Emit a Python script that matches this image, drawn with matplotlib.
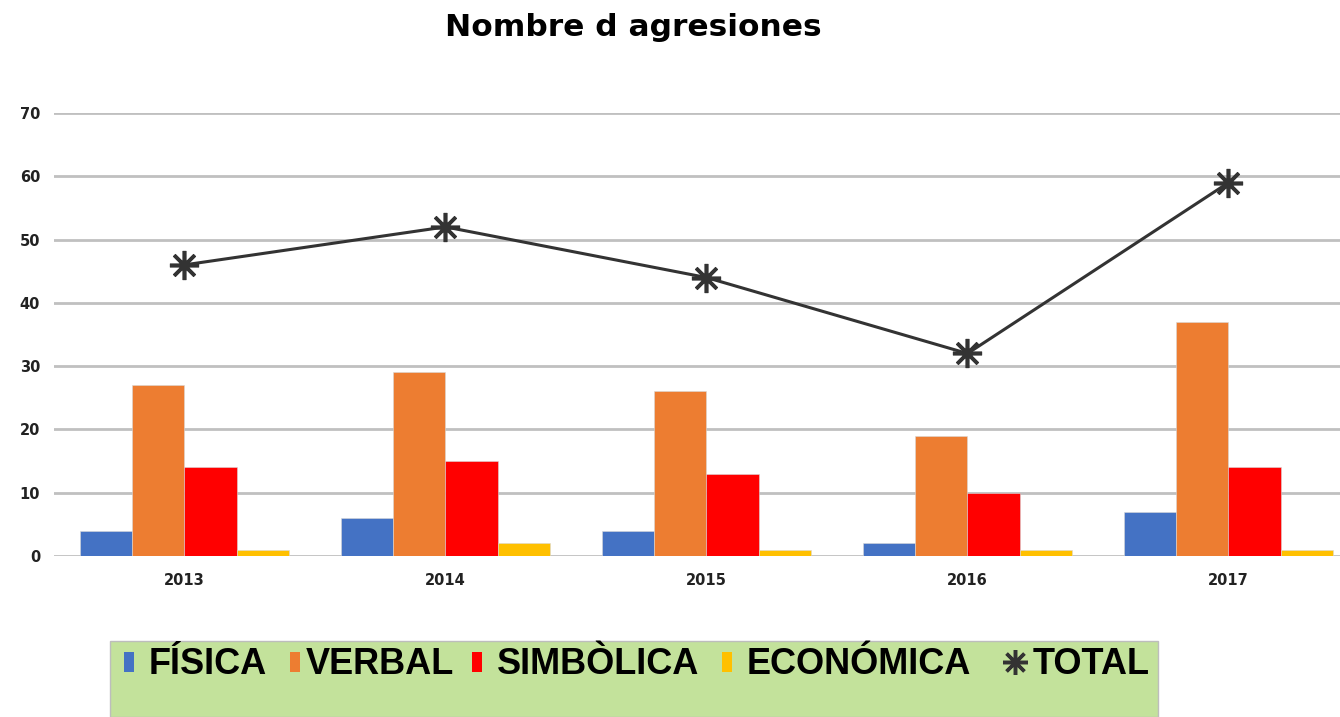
import matplotlib
matplotlib.use("Agg")
import matplotlib.pyplot as plt
from matplotlib.patches import Rectangle
from matplotlib.lines import Line2D
import numpy as np

years = ["2013", "2014", "2015", "2016", "2017"]
fisica = [4, 6, 4, 2, 7]
verbal = [27, 29, 26, 19, 37]
simbolica = [14, 15, 13, 10, 14]
economica = [1, 2, 1, 1, 1]
total = [46, 52, 44, 32, 59]

series_names = ["FÍSICA", "VERBAL", "SIMBÒLICA", "ECONÓMICA"]
series_vals = [fisica, verbal, simbolica, economica]
colors = ["#4472C4", "#ED7D31", "#FF0000", "#FFC000"]

W, H = 1340, 717
fig = plt.figure(figsize=(W / 100, H / 100), dpi=100)
ax = fig.add_axes([54 / W, 161 / H, 1305 / W, 443 / H])

x = np.arange(len(years))
bw = 0.2
for i, (vals, c) in enumerate(zip(series_vals, colors)):
    ax.bar(x + (i - 1.5) * bw, vals, bw, color=c, zorder=3,
           edgecolor="#d8d8d8", linewidth=0.4)

ax.plot(x, total, color="#333333", lw=2.2, marker=(8, 2, 0), markersize=21,
        markeredgewidth=2.6, markeredgecolor="#333333", zorder=4)

ax.set_xlim(-0.5, 4.5)
ax.set_ylim(0, 70)
ax.set_yticks(range(0, 71, 10))
ax.set_xticks(x)
ax.set_xticklabels(years)
ax.yaxis.grid(True, color="#c0c0c0", lw=2, zorder=0)
for s in ax.spines.values():
    s.set_visible(False)
ax.tick_params(length=0)
for lab in ax.get_xticklabels() + ax.get_yticklabels():
    lab.set_fontfamily("DejaVu Sans")
    lab.set_fontweight("bold")
    lab.set_fontsize(10.5)
    lab.set_color("#222222")
ax.tick_params(axis="x", pad=12)
ax.tick_params(axis="y", pad=10)

fig.text(633 / W, 1 - 28 / H, "Nombre d agresiones", ha="center", va="center",
         fontsize=22.5, fontweight="bold", family="DejaVu Sans")

# legend box
fig.patches.append(Rectangle((110 / W, 0), (1158 - 110) / W, (717 - 641) / H,
                             transform=fig.transFigure, facecolor="#C3E29B",
                             edgecolor="#bdbdbd", lw=1, zorder=0))
ly = 1 - 664 / H
mk_x = [124, 290, 472, 722]
tx_x = [149, 306, 497, 747]
for name, c, mx, tx in zip(series_names, colors, mk_x, tx_x):
    fig.patches.append(Rectangle((mx / W, 1 - 672 / H), 10 / W, 20 / H,
                                 transform=fig.transFigure, facecolor=c,
                                 edgecolor="none", zorder=2))
    fig.text(tx / W, ly, name, ha="left", va="center", fontsize=26,
             fontweight="bold", family="Liberation Sans", color="black")
fig.lines.append(Line2D([1015 / W], [1 - 662 / H], transform=fig.transFigure,
                        marker=(8, 2, 0), markersize=18, markeredgewidth=2.5,
                        color="#333333", linestyle="none"))
fig.text(1033 / W, ly, "TOTAL", ha="left", va="center", fontsize=26,
         fontweight="bold", family="Liberation Sans", color="black")

fig.savefig("out.png", dpi=100)
